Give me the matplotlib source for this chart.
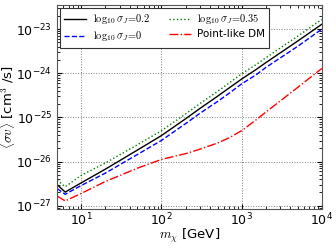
import numpy as np
import matplotlib
matplotlib.use("Agg")
import matplotlib.pyplot as plt

plt.rcParams['mathtext.fontset'] = 'cm'
plt.rcParams['font.family'] = 'DejaVu Sans'

# DM mass [GeV]
mass = [5, 6.3, 10, 20, 50, 100, 200, 300, 500, 700, 1000, 1500, 2000, 5000, 10000]
# log10 <sigma v> upper limits
lg_s02 = [-26.52, -26.69, -26.48, -26.17, -25.74, -25.41, -25.03, -24.80, -24.52, -24.33,
          -24.13, -23.92, -23.76, -23.27, -22.89]
lg_s00 = [-26.61, -26.74, -26.54, -26.26, -25.84, -25.52, -25.14, -24.91, -24.64, -24.45,
          -24.24, -24.04, -23.87, -23.39, -23.00]
lg_s035 = [-26.42, -26.57, -26.31, -26.03, -25.62, -25.30, -24.92, -24.69, -24.41, -24.22,
           -24.01, -23.81, -23.65, -23.16, -22.78]
lg_point = [-26.78, -26.89, -26.72, -26.45, -26.15, -25.95, -25.82, -25.72, -25.58, -25.46,
            -25.30, -25.06, -24.88, -24.32, -23.89]

fig, ax = plt.subplots(figsize=(3.36, 2.52), dpi=100)
fig.subplots_adjust(left=0.17, right=0.958, top=0.98, bottom=0.171)

ax.plot(mass, 10 ** np.array(lg_s02), 'k-', lw=1.0, label=r'$\log_{10}\sigma_J\!=\!0.2$')
ax.plot(mass, 10 ** np.array(lg_s00), 'b--', lw=1.0, label=r'$\log_{10}\sigma_J\!=\!0$')
ax.plot(mass, 10 ** np.array(lg_s035), 'g:', lw=1.0, label=r'$\log_{10}\sigma_J\!=\!0.35$')
ax.plot(mass, 10 ** np.array(lg_point), 'r-.', lw=1.0, label='Point-like DM')

ax.set_xscale('log')
ax.set_yscale('log')
ax.set_xlim(5, 1e4)
ax.set_ylim(8.5e-28, 3.5e-23)
ax.grid(True, which='major', ls=':', color='gray', lw=0.7)
ax.tick_params(which='both', direction='in', top=True, right=True, labelsize=9)
ax.tick_params(axis='x', pad=2)
for s in ax.spines.values():
    s.set_color('#555555')

ax.set_xlabel(r'$m_\chi$ [GeV]', fontsize=9.5)
ax.set_ylabel(r'$\langle\sigma v\rangle$ [cm$^3$ /s]', fontsize=9.5)
ax.xaxis.set_label_coords(0.5, -0.088)
ax.yaxis.set_label_coords(-0.152, 0.5)

leg = ax.legend(loc='upper left', ncol=2, fontsize=7.5, fancybox=False, framealpha=1,
                edgecolor='#333333', handlelength=2.1, columnspacing=1.8,
                borderaxespad=0.3, handletextpad=0.6, labelspacing=0.3)
leg.get_frame().set_linewidth(0.8)

fig.savefig('out.png', dpi=100)
